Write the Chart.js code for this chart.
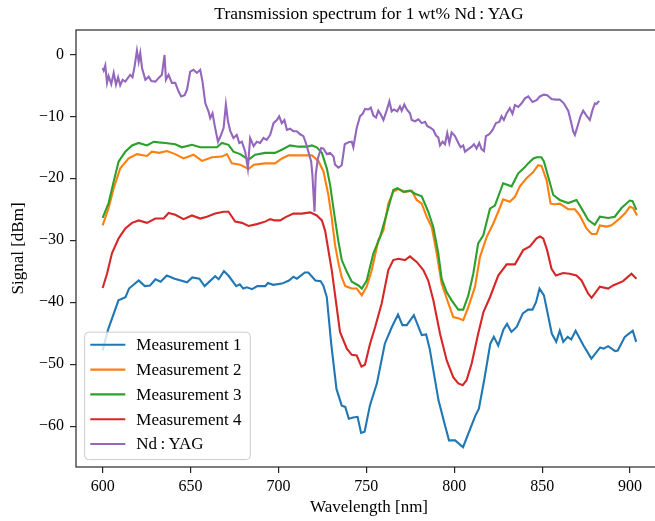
<!DOCTYPE html>
<html>
<head>
<meta charset="utf-8">
<script src="https://cdn.jsdelivr.net/npm/chart.js"></script>
<style>
  html, body { margin: 0; padding: 0; background: #fff; overflow: hidden; }
  .wrap { position: relative; width: 670px; height: 521px; }
</style>
</head>
<body>
<div class="wrap"><canvas id="chart"></canvas></div>
<script>
// wavelength [nm], signal [dBm]
const measurement1 = [[600,-47.8],[603,-44.5],[609,-39.7],[613,-39.2],[615,-37.8],[620.5,-36.5],[624,-37.4],[627,-37.3],[630,-36.3],[633,-36.7],[636.5,-35.7],[641,-36.2],[648,-36.8],[651,-36.0],[655,-36.2],[658,-37.4],[664,-35.8],[666,-36.3],[669,-35.0],[671.5,-35.7],[676,-37.4],[678,-37.1],[680,-37.8],[682,-37.6],[685,-37.9],[688,-37.4],[692.5,-37.4],[694,-36.9],[697,-37.2],[702,-37.0],[706,-36.5],[708.5,-35.9],[710.5,-36.2],[715,-35.2],[717,-35.2],[721,-36.5],[724,-36.6],[725.5,-37.3],[727.5,-39.2],[730,-46.7],[733,-54.0],[736,-56.7],[738,-56.9],[740,-58.8],[742.5,-58.6],[745,-58.5],[747,-61.1],[749,-60.9],[752,-56.7],[756,-53.1],[760.5,-46.7],[764.5,-44.0],[768,-42.0],[770.5,-43.7],[773,-43.7],[777,-42.1],[781.5,-45.3],[784,-45.2],[786,-47.5],[791,-55.8],[794,-59.1],[797,-62.3],[800.5,-62.3],[805,-63.4],[808,-61.2],[812,-58.3],[814,-57.2],[817,-52.6],[820.5,-46.7],[822.5,-45.6],[825,-47.0],[828,-44.4],[830,-43.5],[832.5,-44.8],[835.5,-44.0],[839,-41.8],[842,-41.2],[844.5,-41.2],[846.5,-40.0],[848.5,-37.8],[851,-38.9],[855.5,-45.1],[858,-46.4],[860,-44.6],[862,-46.4],[864.5,-45.6],[866.5,-46.0],[869,-44.6],[873.5,-47.0],[878,-49.1],[883,-47.3],[885,-47.5],[887.5,-47.1],[891.5,-47.9],[893,-47.8],[897,-45.6],[901.5,-44.6],[903.5,-46.4]];

const measurement2 = [[600,-27.6],[603.4,-24.8],[606.3,-21.6],[610,-18.4],[614.8,-16.8],[619.5,-16.1],[625.2,-16.4],[628,-15.7],[632,-15.9],[636.6,-15.6],[641.3,-16.1],[646,-16.8],[651.7,-16.2],[656.5,-17.2],[662.2,-16.6],[667.8,-16.5],[670.7,-16.1],[673.5,-17.6],[678.2,-17.8],[683,-18.5],[686,-17.8],[692.4,-17.6],[698,-17.6],[702,-16.8],[705.7,-16.3],[715.2,-16.3],[719,-16.3],[722.7,-17.2],[725.6,-18.9],[728.4,-22.7],[730.3,-26.4],[732.2,-30.8],[734,-33.5],[736,-36.0],[738,-37.4],[741.7,-37.8],[744.5,-37.8],[747.4,-38.9],[750.2,-37.5],[753.1,-34.8],[756.8,-30.0],[759.7,-28.4],[762.5,-24.1],[765.3,-22.2],[768.2,-21.7],[772,-22.2],[775.8,-22.0],[778.6,-23.5],[781.5,-24.1],[784.3,-26.2],[787.2,-27.9],[790,-32.1],[792.8,-37.0],[795.7,-39.4],[799.4,-42.4],[802.3,-42.6],[805.1,-42.9],[808,-40.8],[811.8,-37.5],[814.6,-32.7],[818.4,-29.5],[822.2,-27.3],[825,-25.4],[827.8,-23.4],[831.6,-23.8],[834.5,-23.0],[837.3,-21.3],[841.1,-20.0],[844.9,-19.0],[847.7,-17.9],[849.6,-18.0],[852.5,-20.3],[854.8,-24.1],[857.2,-24.2],[860,-24.1],[864.8,-25.0],[868.6,-25.0],[871.4,-26.0],[875.2,-28.1],[878.1,-29.0],[880.9,-29.0],[882.8,-27.6],[886.6,-27.8],[889.4,-27.6],[894.1,-26.5],[897,-25.7],[899.8,-24.6],[901.7,-24.8],[904,-26.0]];

const measurement3 = [[600,-26.4],[603.4,-24.0],[606.3,-20.5],[609.1,-17.3],[612.9,-15.7],[616.7,-14.7],[620.5,-14.3],[625.2,-14.7],[629,-14.1],[631.9,-14.2],[635.6,-14.3],[641.3,-14.5],[645.1,-15.0],[650.8,-14.6],[655.5,-15.0],[660.3,-15.0],[665,-15.0],[667.8,-14.3],[671.6,-14.6],[674.4,-15.7],[678.2,-16.1],[683,-17.0],[686.8,-16.2],[692.4,-15.9],[698,-15.9],[701.9,-15.4],[706.6,-14.7],[711.4,-14.9],[716.1,-14.9],[719,-14.7],[721.8,-15.0],[724.7,-15.9],[727.5,-18.4],[729.4,-21.1],[731.8,-25.9],[734.1,-30.2],[736,-33.2],[738.9,-35.1],[741.7,-36.7],[745.5,-37.3],[747.4,-37.8],[750.2,-36.5],[754,-32.1],[757.8,-29.5],[761.6,-25.7],[765.3,-21.9],[767.6,-21.6],[771,-22.2],[774.8,-22.0],[777.7,-22.5],[781.5,-22.9],[785.2,-25.4],[788.1,-27.9],[790.9,-32.1],[792.8,-36.2],[795.7,-38.4],[798.5,-39.7],[802.3,-41.2],[805.1,-41.2],[808,-38.9],[810.8,-35.4],[813.6,-30.5],[816.5,-29.2],[820.3,-24.9],[823.1,-24.4],[827.8,-20.8],[832.6,-21.3],[836.4,-19.2],[840.2,-18.2],[842,-17.6],[845,-16.8],[847,-16.6],[849.5,-16.6],[851,-17.3],[856.3,-22.7],[860,-23.5],[864.8,-24.0],[869.5,-23.5],[873.3,-25.3],[876.1,-26.7],[879.9,-27.5],[882.8,-26.2],[887.5,-26.4],[891.3,-26.2],[895.1,-24.8],[899.8,-23.6],[901.4,-23.7],[903.6,-25.1]];

const measurement4 = [[600,-37.7],[602.5,-35.4],[605.3,-32.1],[609.1,-29.7],[612.9,-28.1],[616.7,-27.2],[620.5,-26.8],[625.2,-27.2],[630,-26.5],[634.7,-26.5],[637.5,-25.6],[641.3,-25.9],[646,-26.6],[650.8,-26.0],[655.5,-26.5],[659.3,-26.2],[664,-25.7],[668.8,-25.4],[671.6,-25.4],[675.4,-27.0],[679.2,-27.2],[683,-27.7],[687.7,-27.4],[692.4,-27.0],[695.3,-26.6],[698,-26.8],[701,-26.8],[703.8,-26.3],[708.5,-25.7],[713.2,-25.7],[718,-25.5],[721.8,-26.0],[724.7,-26.8],[726.5,-28.4],[730.3,-34.8],[735,-44.8],[738.9,-47.5],[741.7,-48.5],[744.5,-48.6],[747.2,-50.4],[749.2,-50.1],[752.1,-46.7],[755,-44.0],[758.7,-40.2],[762.5,-34.8],[765.3,-33.2],[768.2,-33.0],[772,-33.2],[774.8,-32.6],[778.6,-33.5],[782.4,-34.8],[785.2,-36.5],[788.1,-39.7],[791.9,-45.1],[795.7,-49.4],[799.4,-52.1],[802.3,-53.1],[804.8,-53.4],[807,-52.6],[809.9,-49.9],[813.6,-45.1],[816.6,-41.6],[820.3,-39.2],[825,-35.7],[829.8,-33.9],[834.5,-33.9],[839.2,-31.6],[843,-31.0],[846.8,-29.7],[848.7,-29.4],[850.6,-29.7],[852.8,-31.6],[855.3,-34.6],[857.8,-35.7],[861.9,-35.3],[865.7,-35.4],[869.5,-35.7],[872.4,-36.5],[876.1,-38.6],[878.1,-39.3],[882.8,-37.5],[887.5,-37.8],[890.3,-37.3],[896,-36.6],[900.8,-35.4],[903.6,-36.2]];

const ndyag = [[600,-2.2],[600.6,-2.6],[601.5,-1.8],[602.5,-4.6],[603.4,-3.5],[604.9,-4.8],[606.3,-3.0],[607.6,-4.9],[608.8,-3.7],[610,-5.0],[611.4,-4.1],[612.9,-4.4],[614.4,-3.8],[615.7,-3.3],[617,-3.7],[618.2,-1.9],[619.5,0.6],[620.5,-1.2],[621.4,0.2],[622.4,-2.2],[624.3,-4.1],[626.2,-3.6],[627.7,-4.3],[630,-4.4],[631.9,-3.8],[633.7,-3.3],[635.2,-0.1],[636,-4.1],[637.5,-3.3],[639.4,-4.6],[641.3,-4.6],[643.2,-6.0],[644.7,-6.8],[646.6,-6.6],[648,-5.7],[649.8,-2.8],[651.7,-2.5],[653.6,-3.0],[655.5,-2.5],[656.8,-4.4],[658.4,-7.9],[660.2,-9.2],[661.2,-10.3],[662.5,-9.5],[664,-11.9],[665.6,-14.1],[666.9,-13.3],[668.8,-11.9],[670.1,-8.1],[671.3,-10.8],[672.6,-12.4],[674.4,-13.5],[676.3,-13.0],[677.7,-14.3],[679.2,-14.1],[681.1,-15.7],[682.6,-18.4],[683.9,-13.5],[685.9,-14.8],[687.7,-14.1],[689.6,-14.3],[691.5,-13.5],[693.3,-13.8],[695.3,-13.0],[697.2,-11.1],[699.1,-10.6],[700.4,-10.0],[701.9,-11.1],[703.4,-10.6],[704.8,-12.2],[706.6,-12.0],[708.5,-12.4],[710.4,-12.4],[712.3,-12.9],[714.2,-13.2],[715.6,-14.3],[717,-15.7],[718.6,-17.3],[719.3,-19.4],[720.5,-25.4],[721.2,-19.4],[722.4,-16.8],[724.3,-15.1],[725.6,-15.2],[727.5,-16.1],[729.4,-15.9],[731.3,-16.5],[732.2,-17.8],[734.1,-18.3],[736,-17.9],[737.7,-14.5],[739.8,-14.2],[741.7,-14.1],[742.6,-15.0],[744.5,-11.9],[746.4,-10.0],[747.9,-9.6],[749.3,-8.8],[751.2,-8.9],[752.5,-8.6],[754,-9.9],[755.5,-10.2],[756.8,-9.1],[758.2,-9.7],[759.7,-10.6],[761.6,-9.0],[763.1,-7.6],[764.4,-9.2],[765.7,-8.9],[767.6,-9.2],[769.1,-8.4],[770.1,-9.1],[771.6,-8.1],[773,-8.9],[774.8,-9.5],[775.8,-10.6],[777.7,-10.8],[779.6,-10.5],[781.5,-11.1],[783.4,-10.9],[784.7,-11.6],[786.2,-11.8],[788.1,-12.2],[789.6,-13.1],[790.9,-13.4],[791.9,-14.7],[793.4,-14.1],[794.7,-14.5],[796,-12.7],[797.2,-14.3],[798.5,-12.6],[800.4,-13.2],[802.3,-14.3],[803.6,-15.0],[805.1,-14.7],[806.1,-15.7],[808,-15.3],[809.9,-14.9],[811.2,-14.5],[812.7,-15.2],[814.2,-14.3],[815.5,-15.3],[816.9,-15.6],[818,-13.2],[819.9,-12.9],[821.8,-12.2],[823.7,-11.1],[825.6,-10.9],[826.9,-10.0],[828.2,-10.6],[829.8,-9.5],[831.6,-8.7],[833.1,-9.6],[834.5,-8.2],[836.4,-8.5],[838.3,-7.9],[840.2,-7.1],[842.1,-6.8],[844.5,-7.7],[846.8,-7.4],[848.7,-6.8],[851,-6.5],[852.9,-6.6],[855.3,-7.2],[857.8,-7.3],[860,-7.3],[862.3,-7.9],[864.8,-9.1],[866.1,-10.5],[867.6,-12.4],[868.6,-13.0],[869.9,-11.8],[871.8,-10.0],[873.3,-9.1],[875.2,-9.9],[877.1,-10.6],[878.6,-9.0],[880,-7.9],[880.9,-8.0],[882.4,-7.5]];

const seriesNames = ['Measurement 1', 'Measurement 2', 'Measurement 3', 'Measurement 4', 'Nd\u2009:\u2009YAG'];
const seriesColors = ['#1f77b4', '#ff7f0e', '#2ca02c', '#d62728', '#9467bd'];
const xTicks = [600, 650, 700, 750, 800, 850, 900];
const yTicks = [-60, -50, -40, -30, -20, -10, 0];

const titleText = 'Transmission spectrum for 1\u2009wt% Nd\u2009:\u2009YAG';
const fontFamily = '"Liberation Serif", "DejaVu Serif", serif';

const allSeries = [measurement1, measurement2, measurement3, measurement4, ndyag];

const datasets = allSeries.map((s, i) => ({
  label: seriesNames[i],
  data: s.map(p => ({x: p[0], y: p[1]})),
  borderColor: seriesColors[i],
  backgroundColor: seriesColors[i],
  borderWidth: 2.1,
  pointRadius: 0,
  tension: 0,
  order: allSeries.length - i
}));

const minus = v => (v < 0 ? '\u2212' + Math.abs(v) : String(v));

// spines, title and a matplotlib-like legend box
const decorations = {
  id: 'decorations',
  afterDraw(chart) {
    const ctx = chart.ctx;
    const a = chart.chartArea;
    ctx.save();
    ctx.strokeStyle = '#262626';
    ctx.lineWidth = 1.2;
    ctx.strokeRect(a.left, a.top, a.right - a.left, a.bottom - a.top);

    ctx.fillStyle = '#000';
    ctx.font = '17.5px ' + fontFamily;
    ctx.textAlign = 'center';
    ctx.textBaseline = 'middle';
    ctx.fillText(titleText, (a.left + a.right) / 2, 14);

    ctx.font = '17px ' + fontFamily;
    let textW = 0;
    chart.data.datasets.forEach(d => { textW = Math.max(textW, ctx.measureText(d.label).width); });
    const rowH = 24.8;
    const boxW = 5.7 + 35 + 11 + textW + 8.7;
    const boxH = 12.6 + rowH * (chart.data.datasets.length - 1) + 15.6;
    const bx = a.left + 8.6;
    const by = a.bottom - 7.4 - boxH;
    ctx.beginPath();
    ctx.roundRect(bx, by, boxW, boxH, 4);
    ctx.fillStyle = 'rgba(255,255,255,0.8)';
    ctx.fill();
    ctx.strokeStyle = '#cccccc';
    ctx.lineWidth = 1;
    ctx.stroke();
    ctx.textAlign = 'left';
    chart.data.datasets.forEach((d, i) => {
      const yy = by + 12.6 + i * rowH;
      ctx.strokeStyle = d.borderColor;
      ctx.lineWidth = 2.1;
      ctx.beginPath();
      ctx.moveTo(bx + 5.7, yy);
      ctx.lineTo(bx + 5.7 + 35, yy);
      ctx.stroke();
      ctx.fillStyle = '#000';
      ctx.fillText(d.label, bx + 5.7 + 35 + 11, yy + 1);
    });
    ctx.restore();
  }
};

new Chart(document.getElementById('chart'), {
  type: 'line',
  data: { datasets: datasets },
  options: {
    responsive: true,
    maintainAspectRatio: false,
    devicePixelRatio: 1,
    animation: false,
    layout: { padding: { left: 0, right: 8, top: 30, bottom: 0 } },
    plugins: {
      legend: { display: false },
      title: { display: false },
      tooltip: { enabled: false }
    },
    scales: {
      x: {
        type: 'linear',
        min: 584.85,
        max: 918.15,
        afterFit: s => { s.height = 54; },
        afterBuildTicks: s => { s.ticks = xTicks.map(v => ({value: v})); },
        grid: { drawOnChartArea: false, drawTicks: true, tickLength: 6, tickColor: '#262626', lineWidth: 1.2 },
        border: { display: false },
        ticks: { color: '#000', font: { family: fontFamily, size: 16 }, padding: 4, maxRotation: 0, callback: v => minus(v) },
        title: { display: true, text: 'Wavelength [nm]', color: '#000', font: { family: fontFamily, size: 17 }, padding: { top: 0, bottom: 3 } }
      },
      y: {
        type: 'linear',
        min: -66.6,
        max: 3.93,
        afterFit: s => { s.width = 76; },
        afterBuildTicks: s => { s.ticks = yTicks.map(v => ({value: v})); },
        grid: { drawOnChartArea: false, drawTicks: true, tickLength: 6, tickColor: '#262626', lineWidth: 1.2 },
        border: { display: false },
        ticks: { color: '#000', font: { family: fontFamily, size: 16 }, padding: 6, callback: v => minus(v) },
        title: { display: true, text: 'Signal [dBm]', color: '#000', font: { family: fontFamily, size: 17 }, padding: { top: 8, bottom: 0 } }
      }
    }
  },
  plugins: [decorations]
});
</script>
</body>
</html>
